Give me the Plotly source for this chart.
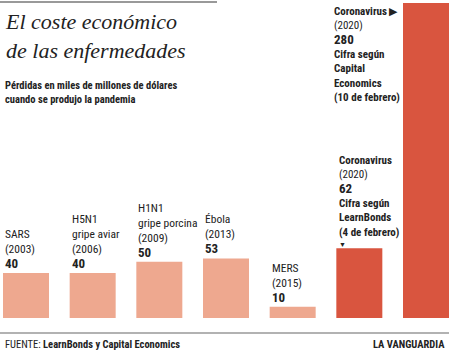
import plotly.graph_objects as go

categories = ["SARS", "H5N1", "H1N1", "Ébola", "MERS", "Coronavirus LB", "Coronavirus CE"]
values = [40, 40, 50, 53, 10, 62, 280]
names = ["SARS", "H5N1<br>gripe aviar", "H1N1<br>gripe porcina", "Ébola", "MERS", "<b>Coronavirus</b>", "<b>Coronavirus</b> ▶"]
years = ["(2003)", "(2006)", "(2009)", "(2013)", "(2015)", "(2020)", "(2020)"]
notes = ["", "", "", "", "", "<b>Cifra según<br>LearnBonds<br>(4 de febrero)</b>",
         "<b>Cifra según<br>Capital<br>Economics<br>(10 de febrero)</b>"]
highlight = [False, False, False, False, False, True, True]

LIGHT = "#EEA88F"
RED = "#D9553F"
FONT = "Liberation Sans Narrow, Roboto Condensed, Arial Narrow, Liberation Sans, sans-serif"

fig = go.Figure()
fig.add_trace(go.Bar(
    x=list(range(len(categories))), y=values, width=0.69,
    marker=dict(color=[RED if h else LIGHT for h in highlight], line=dict(width=0)),
    hoverinfo="skip",
))

annotations = []
for i, (v, n, yr, nt) in enumerate(zip(values, names, years, notes)):
    if i == len(values) - 1:
        text = f"{n}<br>{yr}<br><b><span style='font-size:13px'>{v}</span></b><br>{nt}"
        annotations.append(dict(x=i, y=v, xref="x", yref="y", text=text, showarrow=False,
                                xanchor="left", yanchor="top", align="left", xshift=-94, yshift=0,
                                font=dict(family=FONT, size=11, color="#222")))
    elif nt:
        text = f"{n}<br>{yr}<br><b><span style='font-size:13px'>{v}</span></b><br>{nt}"
        annotations.append(dict(x=i, y=v, xref="x", yref="y", text=text, showarrow=False,
                                xanchor="left", yanchor="bottom", align="left", xshift=-22, yshift=7,
                                font=dict(family=FONT, size=11, color="#222")))
        annotations.append(dict(x=i, y=v, xref="x", yref="y", text="▼", showarrow=False,
                                xanchor="left", yanchor="bottom", align="left", xshift=-22, yshift=-3,
                                font=dict(family=FONT, size=7, color="#222")))
    else:
        text = f"{n}<br>{yr}<br><b><span style='font-size:13px'>{v}</span></b>"
        annotations.append(dict(x=i, y=v, xref="x", yref="y", text=text, showarrow=False,
                                xanchor="left", yanchor="bottom", align="left", xshift=-23, yshift=0,
                                font=dict(family=FONT, size=11.5, color="#222")))

annotations += [
    dict(x=0.007, y=1.0, xref="paper", yref="paper", yanchor="top", xanchor="left", yshift=-4,
         text="El coste económico<br>de las enfermedades", showarrow=False, align="left",
         font=dict(family="Liberation Serif, serif", size=22, color="#222", style="italic")),
    dict(x=0.007, y=1.0, xref="paper", yref="paper", yanchor="top", xanchor="left", yshift=-74,
         text="<b>Pérdidas en miles de millones de dólares<br>cuando se produjo la pandemia</b>",
         showarrow=False, align="left", font=dict(family=FONT, size=10.5, color="#222")),
    dict(x=0.007, y=0, xref="paper", yref="paper", yanchor="top", xanchor="left", yshift=-18,
         text="FUENTE: <b>LearnBonds y Capital Economics</b>", showarrow=False, align="left",
         font=dict(family=FONT, size=10.5, color="#222")),
    dict(x=0.995, y=0, xref="paper", yref="paper", yanchor="top", xanchor="right", yshift=-18,
         text="<b>LA VANGUARDIA</b>", showarrow=False, align="right",
         font=dict(family=FONT, size=10.5, color="#222")),
]

shapes = [
    dict(type="line", xref="paper", yref="paper", x0=0, x1=217 / 449,
         y0=1 + 1 / 315, y1=1 + 1 / 315, line=dict(color="#999", width=2)),
    dict(type="line", xref="paper", yref="paper", x0=0, x1=1,
         y0=-15 / 315, y1=-15 / 315, line=dict(color="#999", width=1.5)),
]

fig.update_layout(
    width=449, height=353,
    margin=dict(l=0, r=0, t=3, b=35),
    paper_bgcolor="white", plot_bgcolor="white",
    showlegend=False,
    xaxis=dict(range=[-0.39, 6.345], visible=False, fixedrange=True),
    yaxis=dict(range=[0, 280], visible=False, fixedrange=True),
    annotations=annotations, shapes=shapes,
)

fig.write_html("out.html")
